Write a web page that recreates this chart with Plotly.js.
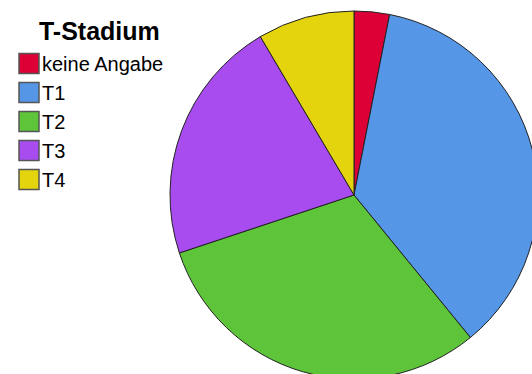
<!DOCTYPE html>
<html>
<head>
<meta charset="utf-8">
<script src="https://cdn.plot.ly/plotly-3.0.1.min.js"></script>
<style>
html,body{margin:0;padding:0;overflow:hidden;background:#fff;}
#chart{width:560px;height:380px;}
</style>
</head>
<body>
<div id="chart"></div>
<script>
const categories = ["keine Angabe", "T1", "T2", "T3", "T4"];
const values = [3.1, 36.0, 30.8, 21.6, 8.5];
const colors = ["#dc0037", "#5596e6", "#5ec43a", "#a84cf0", "#e4d40e"];
const legendTitle = "T-Stadium";

const W = 560, H = 380;
const cx = 354, cy = 195, r = 184;

Plotly.newPlot("chart", [{
  type: "pie",
  labels: categories,
  values: values,
  sort: false,
  direction: "clockwise",
  rotation: 0,
  textinfo: "none",
  hoverinfo: "label+percent",
  marker: {colors: colors, line: {color: "#222222", width: 1}},
  domain: {x: [(cx - r) / W, (cx + r) / W], y: [(H - (cy + r)) / H, (H - (cy - r)) / H]}
}], {
  width: W, height: H,
  margin: {l: 0, r: 0, t: 0, b: 0},
  paper_bgcolor: "#ffffff",
  font: {family: "Liberation Sans, Arial, sans-serif", color: "#000000"},
  showlegend: true,
  legend: {
    x: 2 / W, y: 0.97, xanchor: "left", yanchor: "top",
    font: {size: 20, family: "Liberation Sans, Arial, sans-serif", color: "#000"},
    title: {text: "&nbsp;&nbsp;&nbsp;&nbsp;<b>" + legendTitle + "</b>", side: "top center", font: {size: 25}},
    bgcolor: "rgba(0,0,0,0)",
    traceorder: "normal"
  }
}, {displayModeBar: false, staticPlot: true}).then(function (gd) {
  // enlarge legend swatches to match the reference's bigger squares
  gd.querySelectorAll(".legend .legendpoints path").forEach(function (p) {
    p.setAttribute("d", "M17,10H-3V-10H17Z");
    p.style.stroke = "#555555";
    p.style.strokeWidth = "1.5px";
  });
  gd.querySelectorAll(".legend .legendtitletext").forEach(function (t) {
    const tr = t.getAttribute("transform") || "";
    t.setAttribute("transform", tr + " translate(0,-4)");
  });
});
</script>
</body>
</html>
